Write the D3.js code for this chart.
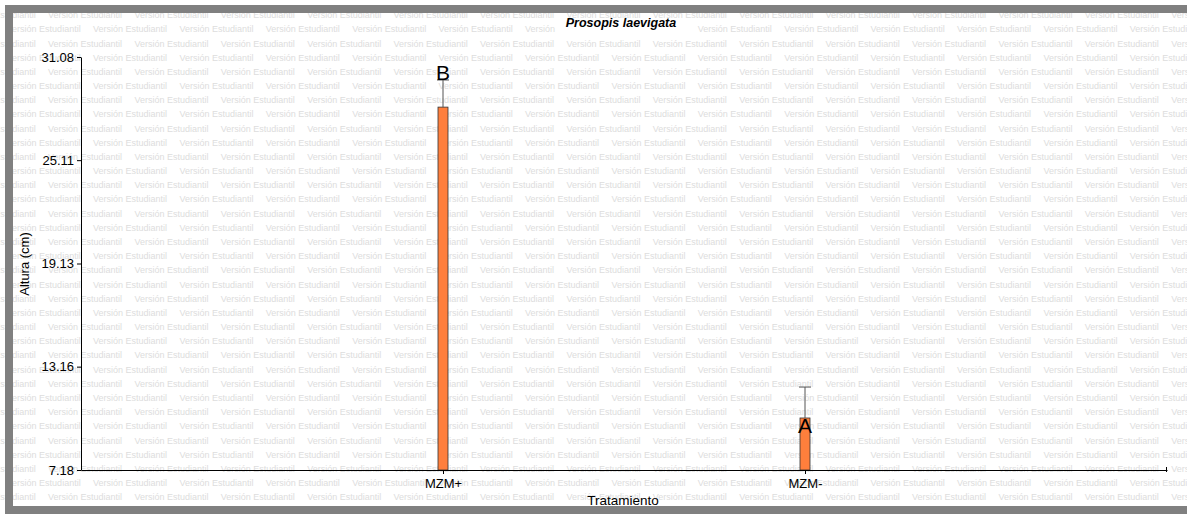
<!DOCTYPE html>
<html>
<head>
<meta charset="utf-8">
<script src="https://cdn.jsdelivr.net/npm/d3@7"></script>
<style>
  html, body { margin: 0; padding: 0; background: #fff; overflow: hidden; }
  svg { display: block; font-family: "Liberation Sans", Arial, sans-serif; }
</style>
</head>
<body>
<svg id="chart" width="1187" height="514"></svg>
<script>
// ---- data ----
const categories = ["MZM+", "MZM-"];
const means = [28.18, 10.19];
const errorTops = [29.75, 11.98];
const letters = ["B", "A"];
const letterBaselines = [29.75, 9.32];
const yTicks = [7.18, 13.16, 19.13, 25.11, 31.08];
const title = "Prosopis laevigata";
const xTitle = "Tratamiento";
const yTitle = "Altura (cm)";
const watermark = "Versión Estudiantil";

const W = 1187, H = 514;
const svg = d3.select("#chart");

// background
svg.append("rect").attr("x", 0).attr("y", 0).attr("width", W).attr("height", H).attr("fill", "#fff");

// watermark
const wm = svg.append("g").attr("fill", "#dddddd").attr("font-size", 9);
const rowStep = 14.18, period = 86.4;
for (let k = 0; k < 36; k++) {
  const yy = 15 + k * rowStep;
  const start = (k % 2 === 0) ? 48 - period : 6.6 - period;
  for (let xx = start; xx < W + period; xx += period) {
    wm.append("text").attr("x", xx).attr("y", yy).attr("dy", "0.35em").text(watermark);
  }
}

// scales
const x = d3.scalePoint().domain(categories).range([81, 1167]).padding(1);
const y = d3.scaleLinear().domain([7.18, 31.08]).range([470, 57]);

// title with white background
svg.append("rect").attr("x", 557).attr("y", 19).attr("width", 136).attr("height", 18).attr("fill", "#fff");
svg.append("text").attr("x", 621).attr("y", 23).attr("dy", "0.35em")
  .attr("text-anchor", "middle").attr("font-size", 12.5)
  .attr("font-weight", "bold").attr("font-style", "italic").attr("fill", "#000").text(title);

// bars
const bw = 10;
svg.append("g").selectAll("rect").data(categories).join("rect")
  .attr("x", d => x(d) - bw / 2)
  .attr("y", (d, i) => y(means[i]))
  .attr("width", bw)
  .attr("height", (d, i) => y(7.18) - y(means[i]))
  .attr("fill", "#ff7f3c").attr("stroke", "#333").attr("stroke-width", 0.8);

// error bars
const eg = svg.append("g").attr("stroke", "#555").attr("stroke-width", 1);
categories.forEach((c, i) => {
  eg.append("line").attr("x1", x(c)).attr("x2", x(c)).attr("y1", y(means[i])).attr("y2", y(errorTops[i]));
  eg.append("line").attr("x1", x(c) - 6).attr("x2", x(c) + 6).attr("y1", y(errorTops[i])).attr("y2", y(errorTops[i]));
});

// letters
svg.append("g").selectAll("text").data(categories).join("text")
  .attr("x", d => x(d)).attr("y", (d, i) => y(letterBaselines[i]))
  .attr("text-anchor", "middle").attr("font-size", 21).attr("fill", "#000")
  .text((d, i) => letters[i]);

// y axis
const yAxis = d3.axisLeft(y).tickValues(yTicks).tickFormat(d3.format(".2f")).tickSize(4).tickSizeOuter(0);
const gy = svg.append("g").attr("transform", "translate(81,0)").call(yAxis);
gy.select(".domain").attr("stroke", "#000");
gy.selectAll(".tick line").attr("stroke", "#000");
gy.selectAll(".tick text").attr("font-size", 13).attr("fill", "#000").attr("x", -7)
  .attr("font-family", "Liberation Sans, Arial, sans-serif");

// x axis
const xAxis = d3.axisBottom(x).tickSize(4).tickSizeOuter(0).tickPadding(5);
const gx = svg.append("g").attr("transform", "translate(0,470)").call(xAxis);
gx.select(".domain").attr("stroke", "#000");
gx.selectAll(".tick line").attr("stroke", "#000");
gx.selectAll(".tick text").attr("font-size", 13).attr("fill", "#000")
  .attr("font-family", "Liberation Sans, Arial, sans-serif");
svg.append("line").attr("x1", 1166.5).attr("x2", 1166.5).attr("y1", 467).attr("y2", 472).attr("stroke", "#000");

// axis titles
svg.append("text").attr("x", 623).attr("y", 500).attr("dy", "0.35em")
  .attr("text-anchor", "middle").attr("font-size", 13.5).attr("fill", "#000").text(xTitle);
svg.append("text").attr("transform", "translate(24,264) rotate(-90)").attr("dy", "0.35em")
  .attr("text-anchor", "middle").attr("font-size", 13).attr("fill", "#000").text(yTitle);

// frame (left, top and bottom edges; right edge lies outside the picture)
svg.append("path")
  .attr("d", `M${W + 10},9 H9 V510 H${W + 10}`)
  .attr("fill", "none").attr("stroke", "#808080").attr("stroke-width", 8);
</script>
</body>
</html>
